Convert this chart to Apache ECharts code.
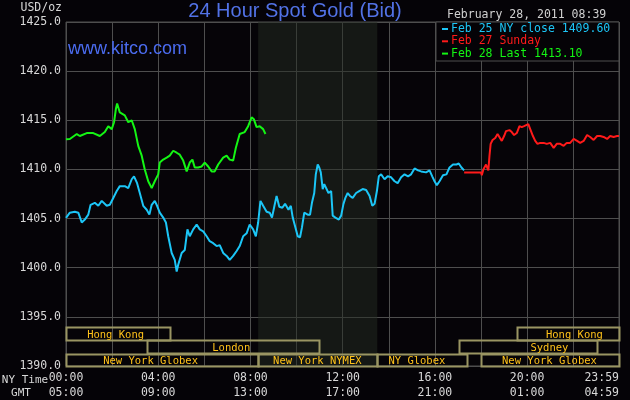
<!DOCTYPE html>
<html>
<head>
<meta charset="utf-8">
<script src="https://cdn.jsdelivr.net/npm/echarts@6/dist/echarts.min.js"></script>
<style>
html,body{margin:0;padding:0;background:#050307;}
#c{width:630px;height:400px;}
</style>
</head>
<body>
<div id="c"></div>
<script>
// ---- data (x = minutes since 00:00 NY time) ----
var seriesNames = ['Feb 25 NY close 1409.60', 'Feb 27 Sunday', 'Feb 28 Last 1413.10'];

var feb25 = [
[0,1405.07],[10,1405.6],[23,1405.7],[32,1405.6],[41,1404.6],[49,1404.9],[58,1405.4],[64,1406.4],
[75,1406.6],[84,1406.3],[93,1406.8],[106,1406.3],[114,1406.4],[123,1407.1],[132,1407.8],[140,1408.3],
[153,1408.3],[162,1408.1],[171,1409.0],[177,1409.3],[185,1408.6],[192,1407.6],[201,1406.3],[210,1405.9],
[217,1405.4],[223,1406.4],[231,1406.8],[237,1406.3],[244,1405.6],[253,1405.1],[260,1404.6],[266,1403.2],
[275,1401.5],[283,1400.8],[288,1399.6],[292,1400.3],[301,1401.5],[309,1401.8],[316,1403.9],[322,1403.2],
[331,1403.9],[340,1404.4],[348,1403.9],[357,1403.7],[366,1403.2],[374,1402.7],[383,1402.5],[392,1402.2],
[400,1402.3],[409,1401.5],[418,1401.2],[426,1400.8],[435,1401.2],[444,1401.7],[452,1402.2],[461,1403.2],
[470,1403.5],[478,1404.4],[487,1403.9],[494,1403.2],[500,1404.6],[506,1406.8],[513,1406.3],[522,1405.7],
[530,1405.6],[536,1405.1],[543,1406.4],[548,1407.3],[555,1406.2],[563,1406.1],[570,1406.5],[579,1405.9],
[585,1406.3],[590,1405.1],[597,1404.1],[603,1403.2],[609,1403.1],[614,1404.1],[620,1405.6],[629,1405.4],
[635,1405.4],[640,1406.6],[646,1407.6],[650,1409.5],[655,1410.5],[659,1410.2],[663,1409.7],[668,1408.0],
[672,1408.5],[677,1408.3],[683,1407.6],[690,1407.8],[694,1405.3],[701,1405.1],[710,1404.9],[716,1405.3],
[722,1406.5],[727,1407.1],[733,1407.6],[739,1407.3],[746,1407.1],[755,1407.6],[763,1407.8],[772,1408.0],
[781,1407.9],[790,1407.3],[797,1406.3],[803,1406.5],[809,1407.8],[814,1409.3],[820,1409.5],[829,1409.0],
[837,1409.3],[846,1409.2],[855,1408.8],[863,1408.6],[872,1409.2],[881,1409.5],[890,1409.3],[898,1409.5],
[907,1410.1],[916,1409.9],[924,1409.8],[937,1409.7],[946,1409.9],[953,1409.3],[959,1408.8],[965,1408.4],
[972,1408.8],[981,1409.4],[990,1409.5],[998,1410.2],[1007,1410.5],[1016,1410.5],[1022,1410.6],[1029,1410.2],
[1036,1409.9]
];

var feb27 = [
[1036,1409.7],[1080,1409.7],[1082,1409.4],[1086,1410.0],[1093,1410.5],[1099,1409.9],[1102,1411.4],[1105,1412.6],
[1110,1413.0],[1117,1413.2],[1123,1413.6],[1128,1413.7],[1134,1412.9],[1140,1413.4],[1145,1413.9],[1154,1414.0],
[1160,1413.8],[1166,1413.5],[1173,1413.7],[1180,1414.4],[1186,1414.3],[1192,1414.4],[1197,1414.6],[1203,1414.6],
[1208,1414.1],[1215,1413.4],[1221,1412.9],[1227,1412.6],[1234,1412.7],[1243,1412.7],[1251,1412.6],[1260,1412.7],
[1269,1412.2],[1277,1412.6],[1286,1412.6],[1295,1412.4],[1303,1412.7],[1312,1412.7],[1321,1413.1],[1330,1412.9],
[1338,1412.7],[1347,1412.9],[1356,1413.5],[1364,1413.3],[1373,1413.0],[1382,1413.4],[1390,1413.4],[1399,1413.3],
[1408,1413.1],[1416,1413.4],[1425,1413.3],[1434,1413.4],[1439,1413.4]
];

var feb28 = [
[0,1413.06],[10,1413.1],[28,1413.6],[36,1413.4],[54,1413.7],[71,1413.7],[88,1413.4],[101,1413.8],
[110,1414.4],[119,1414.1],[125,1414.8],[130,1416.2],[133,1416.7],[140,1415.8],[153,1415.5],[162,1414.8],
[171,1415.0],[179,1414.1],[188,1412.4],[197,1411.4],[205,1410.0],[214,1408.8],[223,1408.1],[231,1408.8],
[240,1409.5],[244,1410.7],[253,1411.0],[262,1411.2],[270,1411.4],[279,1411.9],[288,1411.7],[296,1411.5],
[305,1410.9],[314,1409.8],[322,1410.7],[329,1411.0],[335,1410.2],[344,1410.2],[353,1410.3],[361,1410.7],
[370,1410.3],[379,1409.8],[387,1409.8],[396,1410.5],[409,1411.2],[418,1411.4],[426,1411.0],[435,1410.9],
[442,1412.2],[452,1413.6],[465,1413.8],[474,1414.4],[483,1415.3],[489,1415.1],[496,1414.3],[504,1414.4],
[513,1414.1],[519,1413.6]
];

// trading sessions: [start min, end min, row, name, label centre min]
var sessions = [
[0, 270, 2, 'Hong Kong', 129],
[1174, 1439, 2, 'Hong Kong', 1323],
[212, 660, 1, 'London', 430],
[1022, 1380, 1, 'Sydney', 1258],
[0, 500, 0, 'New York Globex', 220],
[500, 810, 0, 'New York NYMEX', 654],
[810, 1043, 0, 'NY Globex', 913],
[1080, 1439, 0, 'New York Globex', 1258]
];
var rowBounds = [1390, 1391.25, 1392.6, 1393.92];
var nymexShade = [500, 810];

var nyLabels = ['00:00','04:00','08:00','12:00','16:00','20:00','23:59'];
var gmtLabels = ['05:00','09:00','13:00','17:00','21:00','01:00','04:59'];
var yMin = 1390, yMax = 1425, yStep = 5;

// ---- chart ----
var mono = '"DejaVu Sans Mono", "Liberation Mono", monospace';
var gridColor = '#4e4e4e';
var chart = echarts.init(document.getElementById('c'), null, {renderer: 'canvas'});

function xLabel(v) {
  var i = -1;
  if (v === 1439) i = 6;
  else if (v % 240 === 0) i = v / 240;
  if (i < 0 || i > 6) return '';
  return nyLabels[i] + '\n' + gmtLabels[i];
}

var option = {
  backgroundColor: '#050307',
  animation: false,
  grid: {left: 66, right: 11, top: 22, bottom: 34, show: true, containLabel: false, outerBoundsMode: 'none',
         backgroundColor: '#060408', borderColor: gridColor, borderWidth: 1},
  xAxis: {
    type: 'value', min: 0, max: 1439, interval: 120,
    axisLine: {show: false}, axisTick: {show: false},
    splitLine: {show: true, lineStyle: {color: gridColor, width: 1}},
    axisLabel: {formatter: xLabel, color: '#d8d8d8', fontFamily: mono, fontSize: 11.5, lineHeight: 15, margin: 5,
                showMaxLabel: true, showMinLabel: true, hideOverlap: false, alignMaxLabel: 'right'}
  },
  yAxis: {
    type: 'value', min: yMin, max: yMax, interval: yStep,
    axisLine: {show: false}, axisTick: {show: false},
    splitLine: {show: true, lineStyle: {color: gridColor, width: 1}},
    axisLabel: {formatter: function (v) { return v.toFixed(1); }, color: '#d8d8d8', fontFamily: mono, fontSize: 11.5, margin: 5}
  },
  legend: {
    orient: 'vertical', left: 442, top: 23, padding: 0, itemGap: 0.3,
    itemWidth: 6, itemHeight: 2, icon: 'rect', z: 20,
    textStyle: {fontFamily: mono, fontSize: 11.5, lineHeight: 12, padding: [0,0,0,-2]},
    data: [
      {name: seriesNames[0], textStyle: {color: '#1cc6f7'}},
      {name: seriesNames[1], textStyle: {color: '#ff1a1a'}},
      {name: seriesNames[2], textStyle: {color: '#14f514'}}
    ],
    selectedMode: false
  },
  graphic: [
    {type: 'text', x: 295, y: 11, z: 20, style: {text: '24 Hour Spot Gold (Bid)', fill: '#5272e6', font: '20px "Liberation Sans", Arial, sans-serif', textAlign: 'center', textVerticalAlign: 'middle'}},
    {type: 'text', x: 447, y: 15, z: 20, style: {text: 'February 28, 2011 08:39', fill: '#d0d0d0', font: '11.5px ' + mono, textVerticalAlign: 'middle'}},
    {type: 'text', x: 62, y: 8, z: 20, style: {text: 'USD/oz', fill: '#d8d8d8', font: '11.5px ' + mono, textAlign: 'right', textVerticalAlign: 'middle'}},
    {type: 'text', x: 25, y: 380, z: 20, style: {text: 'NY Time', fill: '#d8d8d8', font: '11px ' + mono, textAlign: 'center', textVerticalAlign: 'middle'}},
    {type: 'text', x: 21, y: 393, z: 20, style: {text: 'GMT', fill: '#d8d8d8', font: '11px ' + mono, textAlign: 'center', textVerticalAlign: 'middle'}},
    {type: 'text', x: 68, y: 40, z: 20, style: {text: 'www.kitco.com', fill: '#4b6cf0', font: '18px "Liberation Sans", Arial, sans-serif'}},
    {type: 'rect', shape: {x: 436, y: 22, width: 183, height: 39}, z: 15, style: {fill: '#050307', stroke: gridColor, lineWidth: 1}}
  ],
  series: [
    {
      type: 'custom', name: 'sessions', silent: true, z: 1, clip: false,
      data: sessions,
      renderItem: function (params, api) {
        var s = sessions[params.dataIndex];
        var p1 = api.coord([s[0], rowBounds[s[2] + 1]]);
        var p2 = api.coord([s[1], rowBounds[s[2]]]);
        var pl = api.coord([s[4], (rowBounds[s[2]] + rowBounds[s[2] + 1]) / 2]);
        return {type: 'group', children: [
          {type: 'rect', shape: {x: Math.round(p1[0]) + 0.5, y: Math.round(p1[1]) + 0.5, width: Math.round(p2[0] - p1[0]), height: Math.round(p2[1] - p1[1])},
           style: {fill: null, stroke: '#9a9563', lineWidth: 2}},
          {type: 'text', x: pl[0], y: pl[1] + 1, style: {text: s[3], fill: '#ffc21a', font: '10.5px ' + mono, textAlign: 'center', textVerticalAlign: 'middle'}}
        ]};
      }
    },
    {
      type: 'line', name: 'shade', data: [], silent: true, z: 1,
      markArea: {silent: true, itemStyle: {color: 'rgba(36,44,34,0.5)'}, data: [[{xAxis: nymexShade[0]}, {xAxis: nymexShade[1]}]]}
    },
    {type: 'line', name: seriesNames[0], data: feb25, showSymbol: false, symbol: 'none', z: 3, lineStyle: {color: '#1cc6f7', width: 2}, itemStyle: {color: '#1cc6f7'}},
    {type: 'line', name: seriesNames[1], data: feb27, showSymbol: false, symbol: 'none', z: 3, lineStyle: {color: '#ff1a1a', width: 2}, itemStyle: {color: '#ff1a1a'}},
    {type: 'line', name: seriesNames[2], data: feb28, showSymbol: false, symbol: 'none', z: 3, lineStyle: {color: '#14f514', width: 2}, itemStyle: {color: '#14f514'}}
  ]
};
chart.setOption(option);
</script>
</body>
</html>
